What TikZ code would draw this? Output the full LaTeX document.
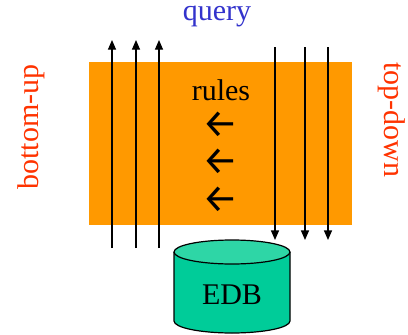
\documentclass[tikz,border=0pt]{standalone}
\usepackage{fontspec}
\setmainfont{Liberation Serif}
\newfontfamily\symfont{Fira Sans}
\usetikzlibrary{arrows.meta}
\definecolor{rulebox}{HTML}{FF9900}
\definecolor{dirlabel}{HTML}{FF3300}
\definecolor{querycol}{HTML}{3333CC}
\definecolor{dbbody}{HTML}{00CC99}
\definecolor{dbtop}{HTML}{2ED6A6}
\tikzset{
  flow/.style={line width=0.6pt, -{Triangle[length=4.8pt,width=4pt]}},
  lbl/.style={inner sep=0pt, font=\fontsize{15}{18}\selectfont},
  dirtext/.style={lbl, text=dirlabel},
  leftarrow/.style={inner sep=0pt, font=\symfont\fontsize{20}{22}\selectfont},
}
\begin{document}
\begin{tikzpicture}[x=0.5pt,y=0.5pt]
\useasboundingbox (0,0) rectangle (408,334);
% rule base
\fill[rulebox] (89,109) rectangle (352,272);
\node[lbl] (rules) at (221,244) {rules};
\node[leftarrow] (a1) at (220,209) {←};
\node[leftarrow] (a2) at (220,172) {←};
\node[leftarrow] (a3) at (220,134) {←};
% labels
\node[lbl, text=querycol] (query) at (217,317) {query};
\node[dirtext, rotate=90] (bu) at (31,207) {bottom-up};
\node[dirtext, rotate=-90] (td) at (392,214) {top-down};
% extensional database
\fill[dbbody] (174,82) -- (174,13) arc[start angle=180,end angle=360,x radius=58,y radius=12] -- (290,82) -- cycle;
\draw[line width=0.6pt] (174,82) -- (174,13) arc[start angle=180,end angle=360,x radius=58,y radius=12] -- (290,82);
\filldraw[fill=dbtop, line width=0.6pt] (232,82) ellipse[x radius=58, y radius=12];
\node[lbl] (edb) at (232,39) {EDB};
% bottom-up flow
\foreach \x [count=\i] in {112,136,159} {
  \coordinate (us\i) at (\x,86);
  \coordinate (ue\i) at (\x,294);
  \draw[flow] (us\i) -- (ue\i);
}
% top-down flow
\foreach \x [count=\i] in {275,305,328} {
  \coordinate (ds\i) at (\x,287);
  \coordinate (de\i) at (\x,94);
  \draw[flow] (ds\i) -- (de\i);
}
\end{tikzpicture}
\end{document}
